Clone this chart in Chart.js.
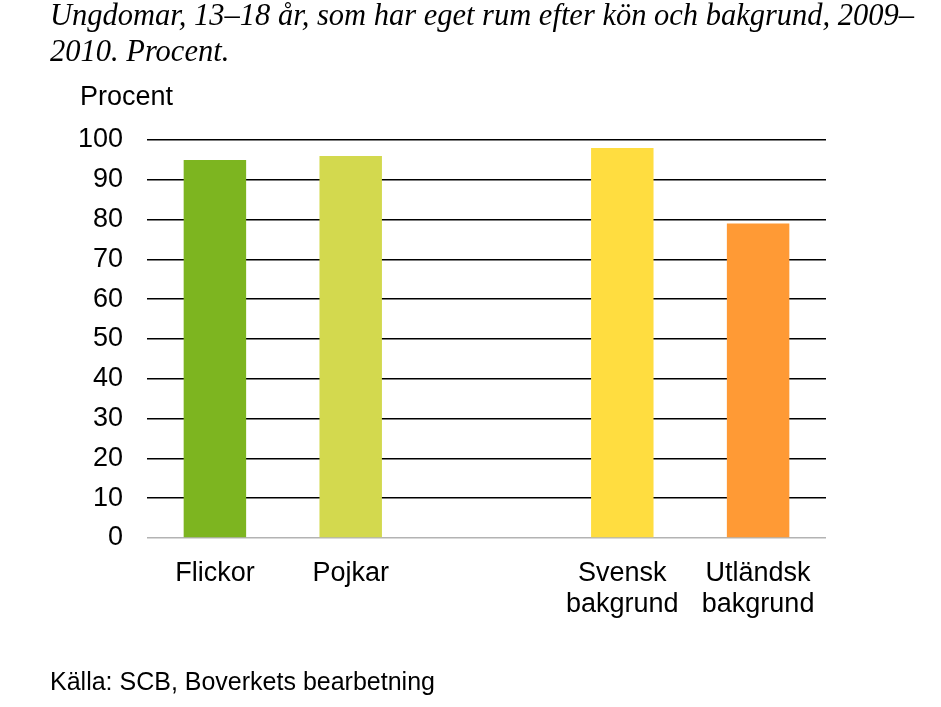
<!DOCTYPE html>
<html lang="sv">
<head>
<meta charset="utf-8">
<title>Eget rum</title>
<script src="https://cdn.jsdelivr.net/npm/chart.js@4.4.1/dist/chart.umd.min.js"></script>
<style>
  html, body { margin: 0; padding: 0; background: #fff; }
  #wrap { position: relative; width: 941px; height: 707px; overflow: hidden; }
  #chart { position: absolute; left: 0; top: 0; }
  .txt { position: absolute; white-space: nowrap; color: #000; }
  #title { left: 50px; top: -3px; font: italic 30.5px "Liberation Serif", "Times New Roman", serif; line-height: 36px; }
  #unit { left: 80px; top: 81px; font: 27px "Liberation Sans", Arial, sans-serif; }
  #source { left: 50px; top: 667px; font: 25px "Liberation Sans", Arial, sans-serif; }
</style>
</head>
<body>
<div id="wrap">
  <canvas id="chart" width="941" height="707"></canvas>
  <div id="title" class="txt">Ungdomar, 13–18 år, som har eget rum efter kön och bakgrund, 2009–<br>2010. Procent.</div>
  <div id="unit" class="txt">Procent</div>
  <div id="source" class="txt">Källa: SCB, Boverkets bearbetning</div>
</div>
<script>
// Data
const categories = ['Flickor', 'Pojkar', '', ['Svensk', 'bakgrund'], ['Utländsk', 'bakgrund']];
const values = [95, 96, null, 98, 79];
const barColors = ['#7db520', '#d3d94e', '#ffffff', '#ffdd40', '#ff9a35'];
const yTicks = [0, 10, 20, 30, 40, 50, 60, 70, 80, 90, 100];

const sansFont = '"Liberation Sans", Arial, sans-serif';

const ctx = document.getElementById('chart').getContext('2d');
new Chart(ctx, {
  type: 'bar',
  data: {
    labels: categories,
    datasets: [{
      data: values,
      backgroundColor: barColors,
      borderWidth: 0,
      categoryPercentage: 1,
      barPercentage: 0.46
    }]
  },
  options: {
    responsive: false,
    animation: false,
    layout: { padding: { left: 0, right: 115, top: 140, bottom: 0 } },
    plugins: { legend: { display: false }, tooltip: { enabled: false } },
    scales: {
      x: {
        grid: { display: false },
        border: { display: false },
        afterFit: (scale) => { scale.height = 169; },
        ticks: {
          color: '#000',
          padding: 12,
          maxRotation: 0,
          autoSkip: false,
          font: { family: sansFont, size: 27, lineHeight: 1.15 }
        }
      },
      y: {
        min: 0,
        max: 100,
        afterFit: (scale) => { scale.width = 147; },
        afterBuildTicks: (scale) => { scale.ticks = yTicks.map(v => ({ value: v })); },
        border: { display: false },
        grid: {
          drawTicks: false,
          lineWidth: 1.5,
          color: (c) => c.tick && c.tick.value === 0 ? '#b3b3b3' : '#000'
        },
        ticks: {
          color: '#000',
          padding: 24,
          font: { family: sansFont, size: 27 }
        }
      }
    }
  }
});
</script>
</body>
</html>
